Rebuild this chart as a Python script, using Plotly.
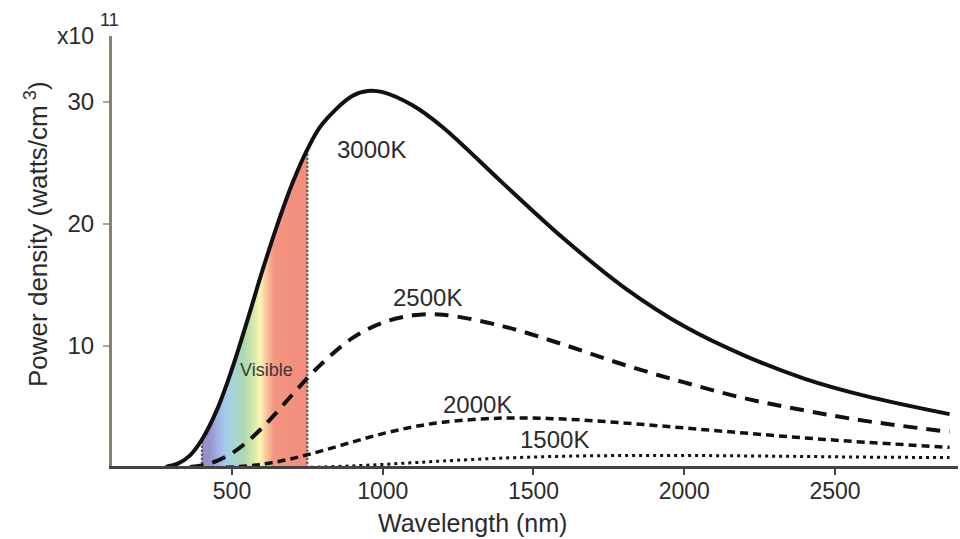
import plotly.graph_objects as go

# ---- data ----
wl_3000 = [280, 320, 360, 400, 450, 500, 550, 600, 650, 700, 750, 800, 900, 950, 1000,
           1100, 1200, 1400, 1600, 1800, 2000, 2200, 2400, 2600, 2880]
p_3000 = [0.08, 0.34, 1.0, 2.3, 4.75, 8.1, 12.0, 16.1, 19.9, 23.3, 26.1, 28.2, 30.5, 30.9, 30.8,
          29.7, 27.9, 23.3, 18.8, 14.8, 11.6, 9.2, 7.3, 5.9, 4.4]

wl_2500 = [360, 400, 450, 500, 550, 600, 650, 700, 750, 800, 900, 1000, 1100, 1200,
           1400, 1600, 1800, 2000, 2200, 2400, 2600, 2880]
p_2500 = [0.07, 0.2, 0.57, 1.2, 2.12, 3.28, 4.6, 6.0, 7.35, 8.6, 10.65, 11.9, 12.5, 12.55,
          11.6, 10.1, 8.45, 7.0, 5.7, 4.7, 3.85, 2.95]

wl_2000 = [480, 550, 600, 650, 700, 750, 800, 900, 1000, 1100, 1200, 1400, 1600, 1800,
           2000, 2200, 2400, 2600, 2880]
p_2000 = [0.04, 0.15, 0.3, 0.5, 0.76, 1.07, 1.41, 2.12, 2.8, 3.35, 3.74, 4.08, 4.0, 3.68,
          3.27, 2.85, 2.45, 2.1, 1.68]

wl_1500 = [760, 800, 900, 1000, 1100, 1200, 1400, 1600, 1800, 2000, 2200, 2400, 2600, 2880]
p_1500 = [0.04, 0.07, 0.16, 0.28, 0.42, 0.56, 0.8, 0.95, 1.01, 1.01, 0.98, 0.93, 0.88, 0.84]

curve_labels = ["3000K", "2500K", "2000K", "1500K"]
label_pos_x = [964, 1150, 1315, 1571]
label_pos_y = [26.1, 14.0, 5.2, 2.3]

visible_range = [400, 750]
visible_label = "Visible"
visible_label_pos = [613, 8.0]

x_ticks = [500, 1000, 1500, 2000, 2500]
y_ticks = [10, 20, 30]

# ---- styling ----
FONT = "Liberation Sans, Arial, Helvetica, sans-serif"
TXT = "#2b2b2b"
vis_colorscale = [
    [0.00, "rgb(150,138,196)"],
    [0.07, "rgb(152,146,204)"],
    [0.15, "rgb(160,178,226)"],
    [0.23, "rgb(164,204,236)"],
    [0.31, "rgb(166,212,210)"],
    [0.40, "rgb(172,216,176)"],
    [0.49, "rgb(214,232,170)"],
    [0.55, "rgb(250,246,178)"],
    [0.61, "rgb(248,200,156)"],
    [0.68, "rgb(243,150,130)"],
    [1.00, "rgb(242,140,124)"],
]

fig = go.Figure()

# visible band under the 3000K curve
idx = [i for i, w in enumerate(wl_3000) if visible_range[0] <= w <= visible_range[1]]
fig.add_trace(go.Scatter(
    x=[wl_3000[i] for i in idx], y=[p_3000[i] for i in idx],
    mode="lines", line=dict(width=0, shape="spline"),
    fill="tozeroy",
    fillgradient=dict(type="horizontal", colorscale=vis_colorscale,
                      start=visible_range[0], stop=visible_range[1]),
    hoverinfo="skip", showlegend=False))

# dotted boundaries of the visible band
for w in visible_range:
    v = p_3000[wl_3000.index(w)]
    fig.add_trace(go.Scatter(x=[w, w], y=[0, v], mode="lines",
                             line=dict(color="#444444", width=2, dash="2px,2px"),
                             hoverinfo="skip", showlegend=False))

series = [
    (wl_1500, p_1500, dict(color="#111111", width=3, dash="3px,4px")),
    (wl_2000, p_2000, dict(color="#111111", width=3.5, dash="8px,5px")),
    (wl_2500, p_2500, dict(color="#111111", width=4, dash="14px,9px")),
    (wl_3000, p_3000, dict(color="#111111", width=4)),
]
for xs, ys, ln in series:
    ln = dict(ln, shape="spline", smoothing=1.0)
    fig.add_trace(go.Scatter(x=xs, y=ys, mode="lines", line=ln,
                             hoverinfo="skip", showlegend=False))

annotations = []
for t, lx, ly in zip(curve_labels, label_pos_x, label_pos_y):
    annotations.append(dict(x=lx, y=ly, text=t, showarrow=False, xref="x", yref="y",
                            font=dict(family=FONT, size=24, color=TXT)))
annotations.append(dict(x=visible_label_pos[0], y=visible_label_pos[1], text=visible_label,
                        showarrow=False, xref="x", yref="y",
                        font=dict(family=FONT, size=18, color="#3a3a3a")))
annotations.append(dict(x=96, y=36, xref="paper", yref="paper", text="x10",
                        showarrow=False, xanchor="right", yanchor="middle",
                        font=dict(family=FONT, size=23, color=TXT)))
annotations.append(dict(x=98, y=20, xref="paper", yref="paper", text="11",
                        showarrow=False, xanchor="left", yanchor="middle",
                        font=dict(family=FONT, size=18, color=TXT)))
annotations.append(dict(x=37, y=234, xref="paper", yref="paper",
                        text="Power density (watts/cm<sup> 3</sup>)", textangle=-90,
                        showarrow=False, xanchor="center", yanchor="middle",
                        font=dict(family=FONT, size=26, color=TXT)))
annotations.append(dict(x=472, y=523, xref="paper", yref="paper",
                        text="Wavelength (nm)",
                        showarrow=False, xanchor="center", yanchor="middle",
                        font=dict(family=FONT, size=25, color=TXT)))

# convert pixel-based paper annotations to paper fractions
L, R, T, B = 112, 2, 36, 73
W, H = 960, 539
pw, ph = W - L - R, H - T - B
for a in annotations:
    if a["xref"] == "paper":
        a["x"] = (a["x"] - L) / pw
        a["y"] = (H - B - a["y"]) / ph

fig.update_layout(
    width=W, height=H,
    margin=dict(l=L, r=R, t=T, b=B, pad=0),
    paper_bgcolor="white", plot_bgcolor="white",
    annotations=annotations,
    showlegend=False,
    font=dict(family=FONT, color=TXT),
)
fig.update_xaxes(range=[102, 2908], tickvals=x_ticks, ticks="outside", ticklen=6,
                 tickwidth=1.5, tickcolor="#444444", showgrid=False, zeroline=False,
                 showline=True, linecolor="#444444", linewidth=2.5,
                 tickfont=dict(family=FONT, size=23, color=TXT), ticklabelstandoff=-3)
fig.update_yaxes(range=[0.15, 35.4], tickvals=y_ticks, ticks="outside", ticklen=6,
                 tickwidth=1.5, tickcolor="#b0a48c", showgrid=False, zeroline=False,
                 showline=True, linecolor="#8a806e", linewidth=3,
                 tickfont=dict(family=FONT, size=24, color=TXT), ticklabelstandoff=4)

fig.write_html("out.html")
